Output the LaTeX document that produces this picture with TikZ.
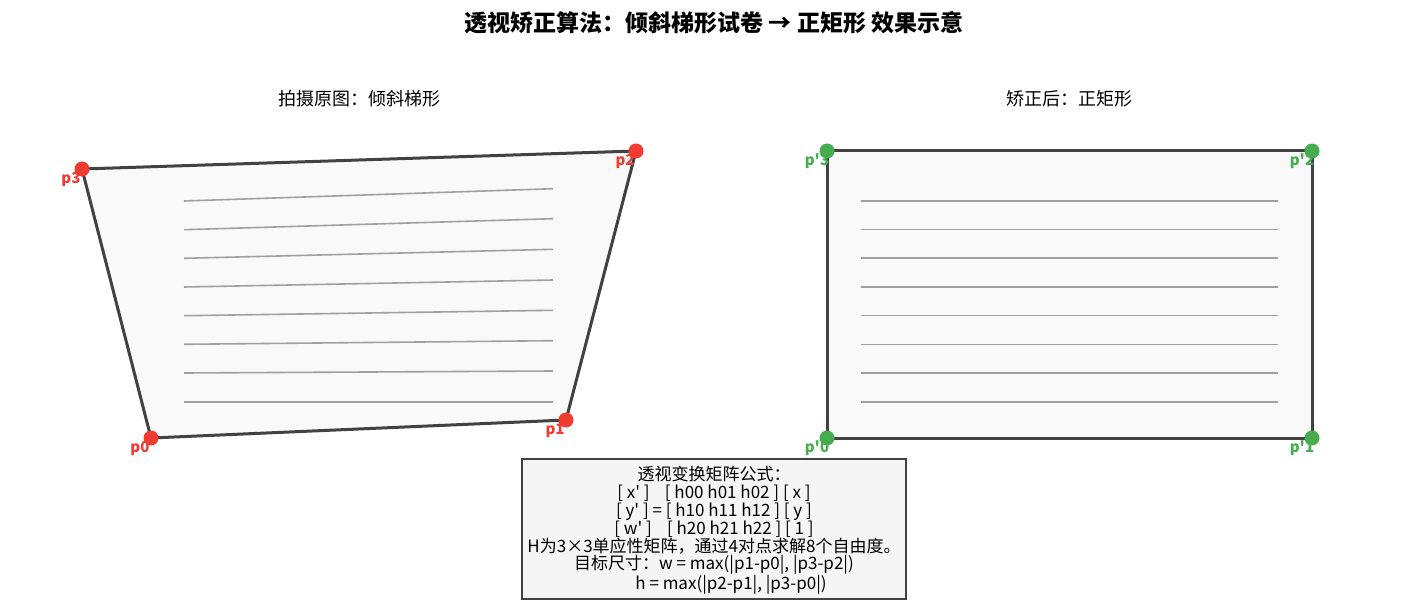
\documentclass[tikz,border=0pt]{standalone}
\usepackage{fontspec}
\usetikzlibrary{calc}
\setmainfont{Noto Sans CJK SC}
\newfontfamily\apfont{Noto Sans CJK SC}
\newcommand\apos{{\apfont '}}
\definecolor{ptred}{HTML}{F03B30}
\definecolor{ptgreen}{HTML}{46AD4F}
\definecolor{edge}{HTML}{424242}
\definecolor{paper}{HTML}{F9F9F9}
\definecolor{rule}{HTML}{A0A0A0}
\definecolor{boxfill}{HTML}{F5F5F5}
\tikzset{
  sheet/.style={draw=edge, line width=3pt, fill=paper, line join=miter},
  textline/.style={draw=rule, line width=1.6pt},
  reddot/.style={circle, fill=ptred, inner sep=0pt, minimum size=15pt},
  greendot/.style={circle, fill=ptgreen, inner sep=0pt, minimum size=15pt},
  redlbl/.style={text=ptred, font=\fontsize{15}{17}\selectfont\bfseries, inner sep=0pt},
  greenlbl/.style={text=ptgreen, font=\fontsize{15}{17}\selectfont\bfseries, inner sep=0pt},
  subtitle/.style={font=\fontsize{18}{20}\selectfont, inner sep=0pt},
}
\begin{document}
\begin{tikzpicture}[x=1pt,y=-1pt]
\useasboundingbox[fill=white] (0,0) rectangle (1428,604);
% title
\node[font=\fontsize{23}{26}\selectfont\bfseries, inner sep=0pt] (title) at (714,23) {透视矫正算法：倾斜梯形试卷 → 正矩形 效果示意};
\node[subtitle] (subL) at (359,99) {拍摄原图：倾斜梯形};
\node[subtitle] (subR) at (1069,99) {矫正后：正矩形};
% left trapezoid
\coordinate (p0) at (151,438);
\coordinate (p1) at (566,420);
\coordinate (p2) at (636,151);
\coordinate (p3) at (82,169);
\draw[sheet] (p0) -- (p1) -- (p2) -- (p3) -- cycle;
\foreach \yl/\yr in {201/188.7, 229.7/218.7, 258.3/249.3, 287/280, 315.7/310.3, 344.3/340.7, 373/371, 401.7/401.7}
  \draw[textline] (184,\yl) -- (553,\yr);
\foreach \p in {p0,p1,p2,p3}
  \node[reddot] (d\p) at (\p) {};
\node[redlbl] (l0) at ($(p0)+(-11,10.5)$) {p0};
\node[redlbl] (l1) at ($(p1)+(-11,10.5)$) {p1};
\node[redlbl] (l2) at ($(p2)+(-11,10.5)$) {p2};
\node[redlbl] (l3) at ($(p3)+(-11,10.5)$) {p3};
% right rectangle
\coordinate (q0) at (827,438);
\coordinate (q1) at (1312,438);
\coordinate (q2) at (1312,151);
\coordinate (q3) at (827,151);
\draw[sheet] (q0) -- (q1) -- (q2) -- (q3) -- cycle;
\foreach \y in {201, 229.7, 258.3, 287, 315.7, 344.3, 373, 401.7}
  \draw[textline] (861,\y) -- (1278,\y);
\foreach \p in {q0,q1,q2,q3}
  \node[greendot] (d\p) at (\p) {};
\node[greenlbl] (m0) at ($(q0)+(-10,10.5)$) {p\apos0};
\node[greenlbl] (m1) at ($(q1)+(-10,10.5)$) {p\apos1};
\node[greenlbl] (m2) at ($(q2)+(-10,10.5)$) {p\apos2};
\node[greenlbl] (m3) at ($(q3)+(-10,10.5)$) {p\apos3};
% formula box
\node[draw=edge, line width=1.5pt, fill=boxfill, minimum width=384pt, minimum height=140pt, inner sep=0pt] (box) at (714,529) {};
\node[align=center, inner sep=0pt, font=\fontsize{17}{17.8}\selectfont] (formula) at (714,530.5) {透视变换矩阵公式：\\
{[} x\apos\ ] \ \ \ [ h00 h01 h02 ] [ x ]\\
{[} y\apos\ ] = [ h10 h11 h12 ] [ y ]\\
{[} w\apos\ ] \ \ \ [ h20 h21 h22 ] [ 1 ]\\
H为3×3单应性矩阵，通过4对点求解8个自由度。\\
目标尺寸：w = max(|p1-p0|, |p3-p2|)\\
\hspace*{34pt}h = max(|p2-p1|, |p3-p0|)};
\end{tikzpicture}
\end{document}
